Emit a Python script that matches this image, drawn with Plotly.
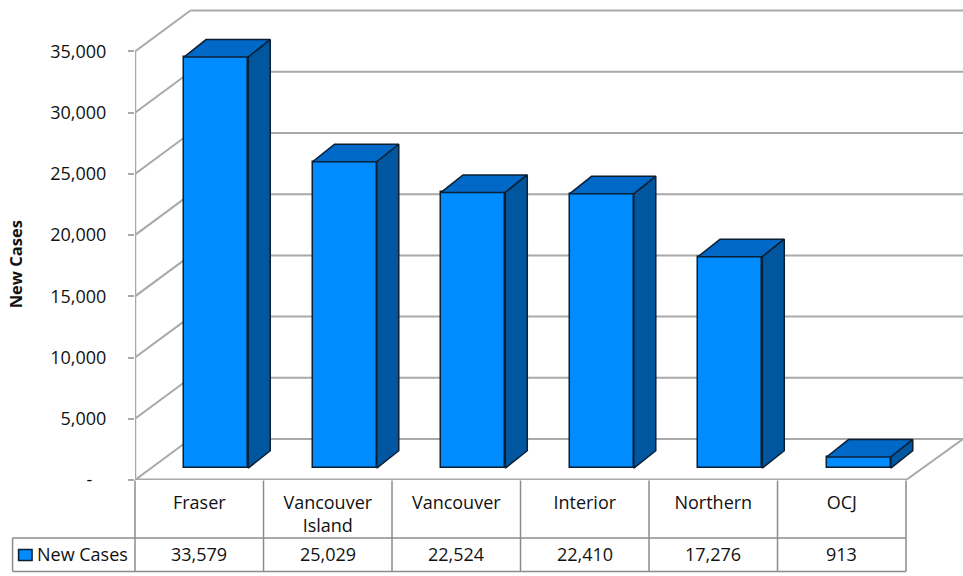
import plotly.graph_objects as go

categories = ["Fraser", "Vancouver<br>Island", "Vancouver", "Interior", "Northern", "OCJ"]
new_cases = [33579, 25029, 22524, 22410, 17276, 913]
tick_values = [0, 5000, 10000, 15000, 20000, 25000, 30000, 35000]
tick_labels = ["-\u00a0\u00a0\u00a0", "5,000", "10,000", "15,000", "20,000", "25,000", "30,000", "35,000"]
series_name = "New Cases"

W, H = 963, 576
L, R, T, B = 134.5, 963, 5, 480.5
CAT_PX = (906 - 134.5) / 6
PX_PER_VAL = 429 / 35000
GRID = "#a9a9a9"
FONT = "Open Sans"
TXT = "#111111"
EDGE = "#0b1f33"
FRONT = "#008bff"

def cx(px):
    return px / CAT_PX

def vy(px):
    return px / PX_PER_VAL

WALL_DX, WALL_DY = cx(55.5), vy(41)
BASE_DX, BASE_DY = cx(16.9), vy(11.8)
BAR_DX, BAR_DY = cx(22), vy(17.5)
BAR_W = 0.5
X_MAX = cx(R - L)
RIGHT = 6

def py(px):
    return (B - px) / (B - T)

def line(x0, y0, x1, y1, color=GRID, width=2):
    return dict(type="line", xref="x", yref="y", x0=x0, y0=y0, x1=x1, y1=y1,
                line=dict(color=color, width=width), layer="below")

shapes = []
for v in tick_values:
    shapes.append(line(0, v, WALL_DX, v + WALL_DY))
    if v:
        shapes.append(line(WALL_DX, v + WALL_DY, X_MAX, v + WALL_DY))
shapes.append(line(WALL_DX, WALL_DY, X_MAX, WALL_DY))
shapes.append(line(0, 0, 0, 35000, width=2.5))
shapes.append(line(0, 0, RIGHT, 0, width=3))
shapes.append(line(RIGHT, 0, X_MAX, WALL_DY))

def tline(x0, y0, x1, y1, color="#8c8c8c", width=1.5):
    return dict(type="line", xref="paper", yref="paper",
                x0=(x0 - L) / (R - L), x1=(x1 - L) / (R - L), y0=py(y0), y1=py(y1),
                line=dict(color=color, width=width), layer="above")

for i in range(7):
    shapes.append(tline(L + i * CAT_PX, 481, L + i * CAT_PX, 572))
shapes.append(tline(12, 538.5, 906, 538.5))
shapes.append(tline(12, 572, 906, 572))
shapes.append(tline(12, 538.5, 12, 572))
shapes.append(dict(type="rect", xref="paper", yref="paper",
                   x0=(18 - L) / (R - L), x1=(31.5 - L) / (R - L), y0=py(561), y1=py(550),
                   fillcolor=FRONT, line=dict(color=EDGE, width=1.5)))

fig = go.Figure()
xs = [i + 0.5 + BASE_DX for i in range(6)]
fig.add_trace(go.Bar(x=xs, y=new_cases, base=BASE_DY, width=BAR_W, name=series_name,
                     marker=dict(color=FRONT, line=dict(color=EDGE, width=1.5)),
                     showlegend=False))

top_x, top_y, side_x, side_y = [], [], [], []
for x, v in zip(xs, new_cases):
    x0, x1 = x - BAR_W / 2, x + BAR_W / 2
    y0, y1 = BASE_DY, v + BASE_DY
    top_x += [x0, x1, x1 + BAR_DX, x0 + BAR_DX, x0, None]
    top_y += [y1, y1, y1 + BAR_DY, y1 + BAR_DY, y1, None]
    side_x += [x1, x1 + BAR_DX, x1 + BAR_DX, x1, x1, None]
    side_y += [y0, y0 + BAR_DY, y1 + BAR_DY, y1, y0, None]

for px, py_, col in ((top_x, top_y, "#0068c6"), (side_x, side_y, "#00569f")):
    fig.add_trace(go.Scatter(x=px, y=py_, mode="lines", fill="toself", fillcolor=col,
                             line=dict(color=EDGE, width=1.5), showlegend=False,
                             hoverinfo="skip"))

annotations = [
    dict(xref="paper", yref="paper", x=(15 - L) / (R - L), y=py(265), xanchor="center", yanchor="middle",
         text="<b>New Cases</b>", textangle=-90, showarrow=False,
         font=dict(family=FONT, size=16.5, color=TXT)),
    dict(xref="paper", yref="paper", x=(34 - L) / (R - L), y=py(555), xanchor="left", yanchor="middle",
         text=series_name, showarrow=False, font=dict(family=FONT, size=18, color=TXT)),
]
for i, v in enumerate(new_cases):
    annotations.append(dict(xref="x", yref="paper", x=i + 0.5, y=py(555), yanchor="middle", text=f"{v:,}",
                            showarrow=False, font=dict(family=FONT, size=18, color=TXT)))

fig.update_layout(
    width=W, height=H, paper_bgcolor="white", plot_bgcolor="white",
    margin=dict(l=L, r=W - R, t=T, b=H - B, pad=0),
    font=dict(family=FONT, size=18, color=TXT),
    shapes=shapes, annotations=annotations, showlegend=False, bargap=0,
    xaxis=dict(range=[0, X_MAX], tickmode="array", tickvals=[i + 0.5 for i in range(6)],
               ticktext=categories, showgrid=False, zeroline=False, showline=False,
               ticks="", ticklabelstandoff=10, tickfont=dict(family=FONT, size=18, color=TXT)),
    yaxis=dict(range=[0, vy(B - T)], tickmode="array", tickvals=tick_values, ticktext=tick_labels,
               showgrid=False, zeroline=False, showline=False,
               ticks="outside", ticklen=6, tickwidth=2, tickcolor=GRID, ticklabelstandoff=18,
               tickfont=dict(family=FONT, size=18, color=TXT)),
)
fig.write_html("out.html", config={"displayModeBar": False},
               post_script="document.body.style.margin='0';")
